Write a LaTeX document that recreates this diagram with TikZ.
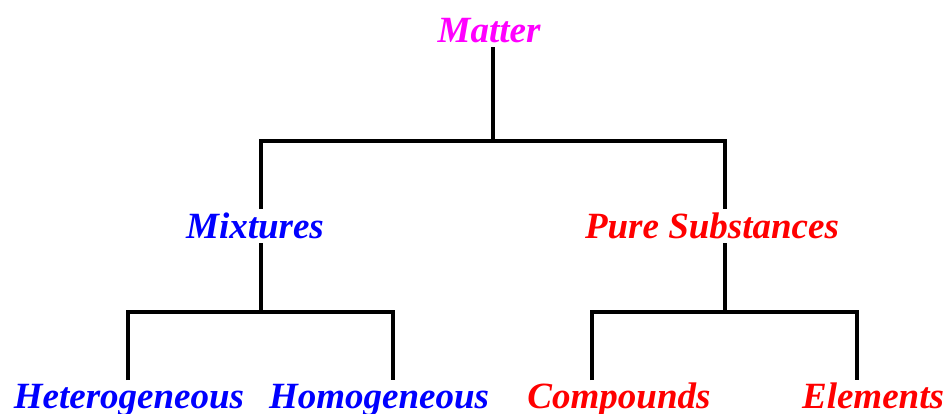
\documentclass[tikz,border=0pt]{standalone}
\usepackage{fontspec}
\setmainfont{Liberation Serif}
\definecolor{magentaM}{RGB}{255,0,255}
\definecolor{blueM}{RGB}{0,0,255}
\definecolor{redM}{RGB}{255,0,0}
\begin{document}
\begin{tikzpicture}[x=1pt,y=-1pt,
  label/.style={anchor=base,inner sep=0pt,font=\fontsize{37}{39}\selectfont\bfseries\itshape},
  branch/.style={draw=black,line width=3.2pt}]
\useasboundingbox (0,0) rectangle (948,413);

% labels
\node[label,text=magentaM] (matter) at (489,42) {Matter};
\node[label,text=blueM] (mix) at (255,238) {Mixtures};
\node[label,text=redM] (pure) at (712,238) {Pure Substances};
\node[label,text=blueM] (het) at (129,408) {Heterogeneous};
\node[label,text=blueM] (hom) at (379,408) {Homogeneous};
\node[label,text=redM] (comp) at (619,408) {Compounds};
\node[label,text=redM] (elem) at (873,408) {Elements};

% line ends
\coordinate (matterB) at (493,47);
\coordinate (top) at (493,141);
\coordinate (mixT) at (261,209);
\coordinate (mixB) at (261,243);
\coordinate (pureT) at (725,209);
\coordinate (pureB) at (725,243);
\coordinate (mixJ) at (261,312);
\coordinate (pureJ) at (725,312);
\coordinate (hetT) at (128,380);
\coordinate (homT) at (393,380);
\coordinate (compT) at (592,380);
\coordinate (elemT) at (857,380);

% tree branches
\draw[branch] (matterB) -- (top);
\draw[branch] (mixT) |- (top) -| (pureT);
\draw[branch] (mixB) -- (mixJ);
\draw[branch] (hetT) |- (mixJ) -| (homT);
\draw[branch] (pureB) -- (pureJ);
\draw[branch] (compT) |- (pureJ) -| (elemT);
\end{tikzpicture}
\end{document}
